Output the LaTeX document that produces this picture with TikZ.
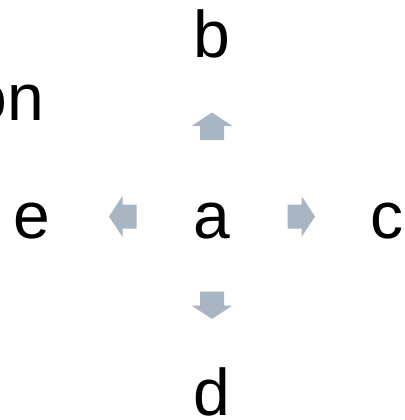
\documentclass[tikz,border=0pt]{standalone}
\usepackage{fontspec}
\setmainfont{Liberation Sans}
\definecolor{arrowgray}{RGB}{170,181,196}
\tikzset{
  lbl/.style={anchor=base, inner sep=0pt, font=\fontsize{66}{72}\selectfont, text=black},
  arrowpoly/.style={fill=arrowgray, draw=none}
}
\newcommand{\bigarrowshape}{(-13.5,-12) -- (0.5,-12) -- (0.5,-20.5) -- (14,0) -- (0.5,20.5) -- (0.5,12) -- (-13.5,12) -- cycle}
\begin{document}
\begin{tikzpicture}[x=1pt,y=-1pt]
\useasboundingbox (0,0) rectangle (404,420);
\node[lbl] (a) at (212,238) {a};
\node[lbl] (b) at (212,58) {b};
\node[lbl] (d) at (212,415) {d};
\node[lbl] (e) at (32,238) {e};
\node[lbl] (c) at (387,238) {c};
\node[lbl, anchor=base east] (t) at (44,120) {on};
\coordinate (up) at (212,126.5);
\coordinate (down) at (212,305);
\coordinate (left) at (123,216.5);
\coordinate (right) at (301,216.5);
\fill[arrowpoly, shift={(up)}, rotate=90] \bigarrowshape;
\fill[arrowpoly, shift={(down)}, rotate=270] \bigarrowshape;
\fill[arrowpoly, shift={(left)}, rotate=180] \bigarrowshape;
\fill[arrowpoly, shift={(right)}, rotate=0] \bigarrowshape;
\end{tikzpicture}
\end{document}
